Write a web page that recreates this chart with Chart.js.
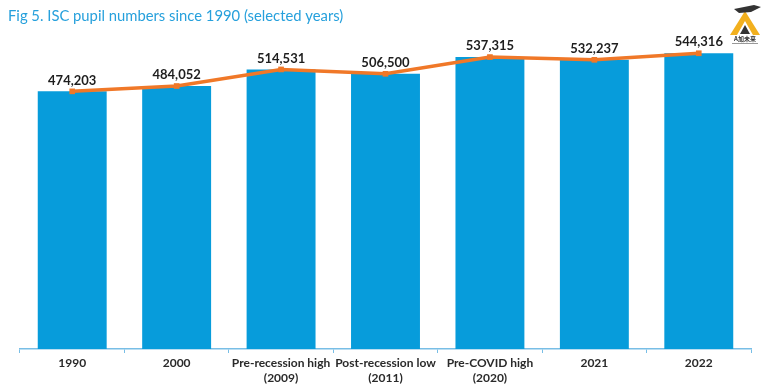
<!DOCTYPE html>
<html>
<head>
<meta charset="utf-8">
<script src="https://cdn.jsdelivr.net/npm/chart.js@4"></script>
<style>
  html, body { margin: 0; padding: 0; background: #fff; }
  #wrap { width: 767px; height: 387px; position: relative; }
</style>
</head>
<body>
<div id="wrap"><canvas id="chart" width="767" height="387"></canvas></div>
<script>
const ctx = document.getElementById('chart');

const categories = ['1990', '2000', ['Pre-recession high', '(2009)'], ['Post-recession low', '(2011)'],
                    ['Pre-COVID high', '(2020)'], '2021', '2022'];
const pupils = [474203, 484052, 514531, 506500, 537315, 532237, 544316];

const bar_color = 'rgb(7, 156, 219)';
const line_color = 'rgb(240, 120, 40)';
const title_text = 'Fig 5. ISC pupil numbers since 1990 (selected years)';

// title, value labels and the little logo
const extras = {
    id: 'extras',
    afterDatasetsDraw(chart) {
        const c = chart.ctx;
        c.save();
        c.fillStyle = 'rgb(38, 160, 220)';
        c.font = '14.8px Lato';
        c.textBaseline = 'middle';
        c.textAlign = 'left';
        c.fillText(title_text, 8, 16);

        const meta = chart.getDatasetMeta(1);
        c.fillStyle = '#1e1e1e';
        c.font = 'bold 13px Lato';
        c.textAlign = 'center';
        meta.data.forEach((pt, i) => {
            c.fillText(pupils[i].toLocaleString('en-US'), pt.x, pt.y - 11);
        });

        // logo
        const lx = 745, ly = 8;
        c.fillStyle = '#f2b01e';
        c.beginPath();
        c.moveTo(lx, ly + 3); c.lineTo(lx - 15, ly + 27); c.lineTo(lx - 8, ly + 27);
        c.lineTo(lx, ly + 13); c.lineTo(lx + 8, ly + 27); c.lineTo(lx + 15, ly + 27);
        c.closePath(); c.fill();
        c.fillStyle = '#333';
        c.beginPath();
        c.moveTo(lx, ly + 17); c.lineTo(lx - 5, ly + 26); c.lineTo(lx + 5, ly + 26);
        c.closePath(); c.fill();
        c.beginPath();
        c.moveTo(lx - 11, ly + 1); c.lineTo(lx + 9, ly - 3); c.lineTo(lx + 16, ly - 1);
        c.lineTo(lx + 6, ly + 4); c.lineTo(lx - 6, ly + 5);
        c.closePath(); c.fill();
        c.font = 'bold 6px "Noto Sans CJK SC"';
        c.fillText('A加未来', lx, ly + 31);
        c.fillStyle = '#999';
        c.fillRect(lx - 13, ly + 35, 26, 1);
        c.restore();
    }
};

const data = {
    labels: categories,
    datasets: [{
        type: 'line',
        data: pupils,
        borderColor: line_color,
        backgroundColor: line_color,
        borderWidth: 3.5,
        pointStyle: 'rect',
        pointRadius: 4,
        pointBorderWidth: 0,
        tension: 0,
        order: 0
    }, {
        type: 'bar',
        data: pupils,
        backgroundColor: bar_color,
        borderWidth: 0,
        categoryPercentage: 0.66,
        barPercentage: 1,
        order: 1
    }]
};

const config = {
    type: 'bar',
    data: data,
    plugins: [extras],
    options: {
        responsive: false,
        animation: false,
        layout: { padding: { top: 23, left: 20, right: 16, bottom: 0 } },
        plugins: {
            legend: { display: false },
            tooltip: { enabled: false }
        },
        scales: {
            y: {
                display: false,
                min: 0,
                max: 600000
            },
            x: {
                offset: true,
                afterFit(scale) { scale.height = 38; },
                grid: {
                    offset: true,
                    drawOnChartArea: false,
                    drawTicks: true,
                    tickLength: 4,
                    color: 'rgb(120, 190, 230)'
                },
                border: { color: 'rgb(120, 190, 230)', width: 1.5 },
                ticks: {
                    color: '#2a2a2a',
                    font: { family: 'Lato', size: 12, weight: 'bold', lineHeight: 1.25 },
                    padding: 3,
                    maxRotation: 0,
                    autoSkip: false
                }
            }
        }
    }
};
const myChart = new Chart(ctx, config);
</script>
</body>
</html>
